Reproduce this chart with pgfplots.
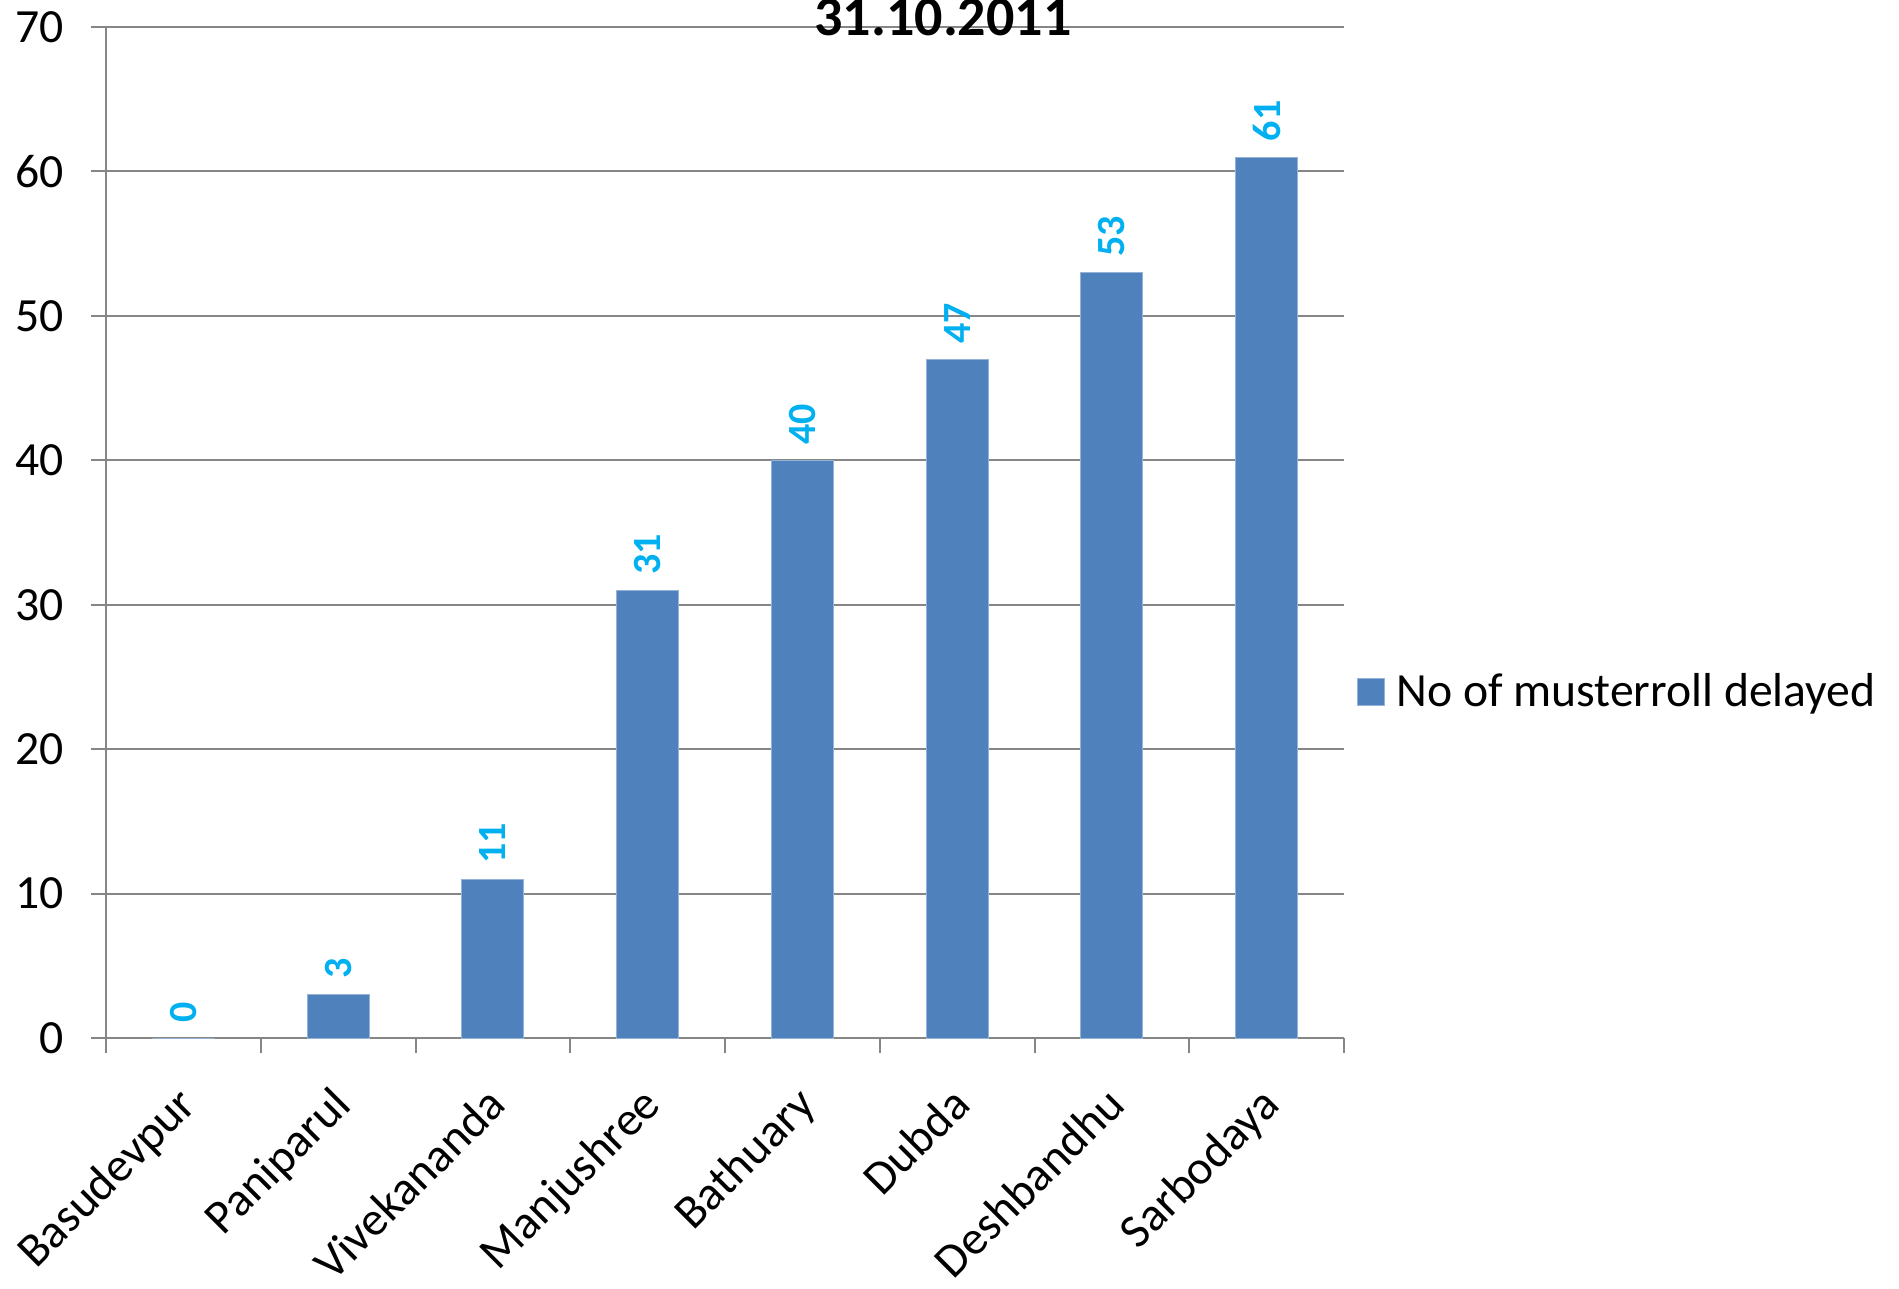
\documentclass[border=0pt]{standalone}
\usepackage{fontspec}
\setmainfont{Carlito}
\usepackage{pgfplots}
\pgfplotsset{compat=1.18}
\usetikzlibrary{calc}

\definecolor{barblue}{RGB}{79,129,189}
\definecolor{lblcyan}{RGB}{0,176,240}
\definecolor{gridgray}{RGB}{134,134,134}

\begin{document}
\begin{tikzpicture}
\begin{axis}[name=ax,
  scale only axis, width=371.4pt, height=303.3pt,
  xmin=-0.5, xmax=7.5, ymin=0, ymax=70,
  axis lines*=left, axis line style={-, draw=gridgray, line width=0.6pt},
  ymajorgrids, grid style={gridgray, line width=0.6pt},
  ytick={0,10,...,70}, tick align=outside, major tick length=4.5pt,
  tick style={gridgray, line width=0.6pt},
  xtick={0,...,7}, major x tick style={draw=none},
  minor xtick={-0.5,0.5,...,7.5}, minor tick length=4.5pt,
  xticklabels={Basudevpur,Paniparul,Vivekananda,Manjushree,Bathuary,Dubda,Deshbandhu,Sarbodaya},
  xticklabel style={xshift=-2.5pt, yshift=-9pt, rotate=45, anchor=north east, inner sep=0pt, font=\fontsize{14.3}{16}\selectfont},
  yticklabel style={font=\fontsize{14.3}{16}\selectfont, inner sep=0pt, xshift=-8pt},
  /pgf/number format/assume math mode=true,
  ybar, bar width=18.6pt,
  nodes near coords,
  every node near coord/.style={rotate=90, anchor=west, inner sep=0pt, xshift=4.6pt,
    font=\fontsize{12}{13}\selectfont\bfseries, text=lblcyan},
  legend style={at={(1.0097,0.342)}, anchor=west, draw=none, fill=none, inner sep=0pt,
    font=\fontsize{14.3}{16}\selectfont,
    /tikz/every odd column/.append style={column sep=1.5pt}},
  legend image code/.code={\fill[#1] (0pt,-4.05pt) rectangle (8.1pt,4.05pt);},
]
\addplot[fill=barblue, draw=barblue!60!white, line width=0.3pt] coordinates {
(0,0) (1,3) (2,11) (3,31) (4,40) (5,47) (6,53) (7,61)
};
\addlegendentry{No of musterroll delayed}
\end{axis}
\node[anchor=base, font=\fontsize{16.8}{18}\selectfont\bfseries] at ($(ax.south west)+(251.1pt,300.9pt)$) {31.10.2011};
\pgfresetboundingbox
\path[use as bounding box] (ax.south west) ++(-31.8pt,-75pt) rectangle ++(569.7pt,386.4pt);
\end{tikzpicture}
\end{document}
